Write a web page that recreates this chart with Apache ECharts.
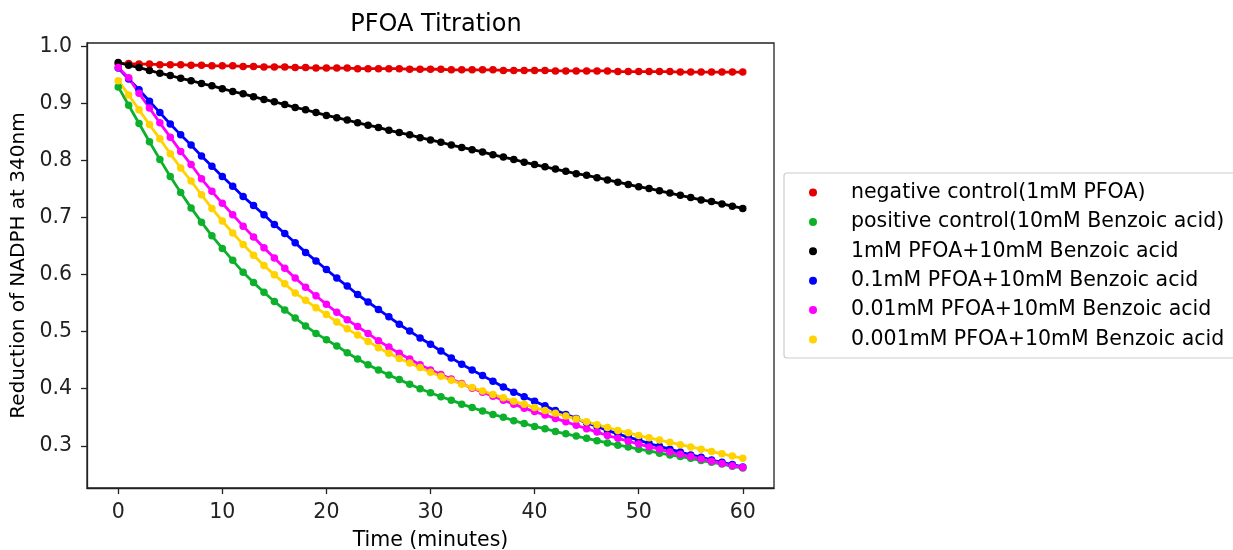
<!DOCTYPE html>
<html style="height: 100%">
<head>
  <meta charset="utf-8">
  <title>PFOA Titration</title>
</head>
<body style="height: 100%; margin: 0; background: #fff">
<div id="container" style="height: 550px; width: 1233px;"></div>
<script type="text/javascript" src="https://cdn.jsdelivr.net/npm/echarts@6/dist/echarts.min.js"></script>
<script type="text/javascript">
  // time points (minutes)
  var minutes = [];
  for (var m = 0; m <= 60; m++) minutes.push(m);

  var xTicks = [0, 10, 20, 30, 40, 50, 60];
  var yTicks = [0.3, 0.4, 0.5, 0.6, 0.7, 0.8, 0.9, 1.0];

  var seriesNames = [
    'negative control(1mM PFOA)',
    'positive control(10mM Benzoic acid)',
    '1mM PFOA+10mM Benzoic acid',
    '0.1mM PFOA+10mM Benzoic acid',
    '0.01mM PFOA+10mM Benzoic acid',
    '0.001mM PFOA+10mM Benzoic acid'
  ];
  var seriesColors = ['#e50000', '#0db02b', '#000000', '#0000ff', '#ff00ff', '#ffd200'];

  var negControl = [0.970, 0.970, 0.969, 0.969, 0.968, 0.968, 0.968, 0.967, 0.967, 0.966,
    0.966, 0.966, 0.965, 0.965, 0.964, 0.964, 0.964, 0.963, 0.963, 0.962,
    0.962, 0.962, 0.962, 0.961, 0.961, 0.961, 0.961, 0.961, 0.960, 0.960,
    0.960, 0.960, 0.959, 0.959, 0.959, 0.959, 0.959, 0.958, 0.958, 0.958,
    0.958, 0.958, 0.957, 0.957, 0.957, 0.957, 0.957, 0.957, 0.956, 0.956,
    0.956, 0.956, 0.956, 0.956, 0.955, 0.955, 0.955, 0.955, 0.955, 0.955, 0.955];

  var posControl = [0.929, 0.897, 0.865, 0.833, 0.802, 0.772, 0.744, 0.717, 0.692, 0.668,
    0.646, 0.625, 0.604, 0.586, 0.569, 0.553, 0.538, 0.524, 0.510, 0.497,
    0.486, 0.475, 0.463, 0.452, 0.442, 0.433, 0.424, 0.416, 0.408, 0.400,
    0.393, 0.386, 0.380, 0.373, 0.367, 0.361, 0.355, 0.350, 0.344, 0.339,
    0.334, 0.330, 0.325, 0.321, 0.317, 0.313, 0.309, 0.305, 0.301, 0.298,
    0.294, 0.291, 0.287, 0.284, 0.281, 0.278, 0.274, 0.271, 0.268, 0.264, 0.261];

  var pfoa1 = [0.972, 0.967, 0.963, 0.958, 0.953, 0.949, 0.944, 0.940, 0.935, 0.931,
    0.926, 0.921, 0.917, 0.912, 0.907, 0.903, 0.898, 0.893, 0.889, 0.884,
    0.879, 0.875, 0.871, 0.866, 0.862, 0.858, 0.853, 0.849, 0.845, 0.840,
    0.836, 0.832, 0.827, 0.823, 0.819, 0.815, 0.810, 0.806, 0.802, 0.797,
    0.793, 0.789, 0.785, 0.781, 0.777, 0.774, 0.770, 0.766, 0.762, 0.758,
    0.754, 0.751, 0.747, 0.743, 0.739, 0.735, 0.731, 0.728, 0.724, 0.720, 0.716];

  var pfoa01 = [0.962, 0.943, 0.924, 0.904, 0.884, 0.864, 0.845, 0.827, 0.808, 0.790,
    0.772, 0.755, 0.737, 0.721, 0.705, 0.688, 0.672, 0.656, 0.639, 0.624,
    0.609, 0.594, 0.580, 0.565, 0.552, 0.539, 0.526, 0.513, 0.501, 0.489,
    0.478, 0.466, 0.454, 0.443, 0.433, 0.423, 0.413, 0.403, 0.394, 0.386,
    0.378, 0.370, 0.362, 0.355, 0.348, 0.340, 0.334, 0.327, 0.321, 0.315,
    0.310, 0.304, 0.299, 0.294, 0.289, 0.284, 0.280, 0.275, 0.271, 0.267, 0.263];

  var pfoa001 = [0.963, 0.945, 0.918, 0.892, 0.866, 0.841, 0.816, 0.793, 0.768, 0.746,
    0.725, 0.705, 0.685, 0.666, 0.647, 0.629, 0.611, 0.594, 0.578, 0.563,
    0.548, 0.534, 0.521, 0.509, 0.497, 0.484, 0.473, 0.462, 0.452, 0.442,
    0.433, 0.425, 0.417, 0.409, 0.401, 0.394, 0.387, 0.380, 0.373, 0.366,
    0.360, 0.354, 0.348, 0.342, 0.336, 0.330, 0.324, 0.318, 0.313, 0.308,
    0.303, 0.298, 0.294, 0.289, 0.285, 0.281, 0.277, 0.273, 0.269, 0.265, 0.262];

  var pfoa0001 = [0.940, 0.915, 0.889, 0.863, 0.838, 0.812, 0.787, 0.764, 0.740, 0.716,
    0.694, 0.673, 0.653, 0.634, 0.616, 0.600, 0.584, 0.568, 0.555, 0.542,
    0.530, 0.517, 0.505, 0.494, 0.483, 0.472, 0.462, 0.453, 0.445, 0.437,
    0.429, 0.422, 0.415, 0.408, 0.402, 0.396, 0.390, 0.384, 0.378, 0.373,
    0.367, 0.362, 0.357, 0.352, 0.347, 0.342, 0.337, 0.332, 0.327, 0.323,
    0.318, 0.314, 0.310, 0.306, 0.302, 0.298, 0.294, 0.290, 0.286, 0.282, 0.278];

  var allValues = [negControl, posControl, pfoa1, pfoa01, pfoa001, pfoa0001];

  var font = 'DejaVu Sans';
  var dom = document.getElementById("container");
  var myChart = echarts.init(dom, null, { renderer: 'canvas' });

  var series = [];
  for (var i = 0; i < seriesNames.length; i++) {
    var pts = [];
    for (var j = 0; j < minutes.length; j++) pts.push([minutes[j], allValues[i][j]]);
    series.push({
      name: seriesNames[i],
      type: 'line',
      data: pts,
      symbol: 'circle',
      symbolSize: 7.5,
      showAllSymbol: true,
      color: seriesColors[i],
      lineStyle: { width: 2.8, color: seriesColors[i] },
      itemStyle: { color: seriesColors[i] },
      animation: false
    });
  }

  var option = {
    animation: false,
    title: {
      text: 'PFOA Titration',
      left: 431,
      top: 8,
      textAlign: 'center',
      textStyle: { fontFamily: font, fontSize: 24, fontWeight: 'normal', color: '#000' }
    },
    legend: {
      data: seriesNames,
      orient: 'vertical',
      left: 784,
      top: 173,
      icon: 'circle',
      itemWidth: 8,
      itemHeight: 8,
      itemGap: 8.4,
      padding: [9, 20, 8, 25],
      borderColor: '#cccccc',
      borderWidth: 1.2,
      borderRadius: 3,
      textStyle: { fontFamily: font, fontSize: 20.5, color: '#000', lineHeight: 20, padding: [0, 0, 0, 29] }
    },
    grid: {
      left: 87,
      right: 459,
      top: 43,
      bottom: 62,
      outerBoundsMode: 'none',
      show: true,
      borderColor: '#222',
      borderWidth: 1.3,
      backgroundColor: '#fff'
    },
    xAxis: {
      type: 'value',
      min: -3,
      max: 63,
      name: 'Time (minutes)',
      nameLocation: 'middle',
      nameGap: 42,
      nameTextStyle: { fontFamily: font, fontSize: 20.5, color: '#000' },
      splitLine: { show: false },
      axisLine: { show: true, onZero: false, lineStyle: { color: '#222', width: 1.3 } },
      axisTick: { show: true, length: 6, lineStyle: { color: '#222', width: 1.3 }, customValues: xTicks },
      axisLabel: { fontFamily: font, fontSize: 20.5, color: '#222', margin: 14, customValues: xTicks }
    },
    yAxis: {
      type: 'value',
      min: 0.226,
      max: 1.006,
      name: 'Reduction of NADPH at 340nm',
      nameLocation: 'middle',
      nameGap: 50,
      nameRotate: 90,
      nameTextStyle: { fontFamily: font, fontSize: 20, color: '#000' },
      splitLine: { show: false },
      axisLine: { show: true, onZero: false, lineStyle: { color: '#222', width: 1.3 } },
      axisTick: { show: true, length: 6, lineStyle: { color: '#222', width: 1.3 }, customValues: yTicks },
      axisLabel: {
        fontFamily: font, fontSize: 20.5, color: '#222', margin: 15, customValues: yTicks,
        formatter: function (v) { return v.toFixed(1); }
      }
    },
    series: series
  };

  if (option && typeof option === "object") {
    myChart.setOption(option, true);
  }
</script>
</body>
</html>
